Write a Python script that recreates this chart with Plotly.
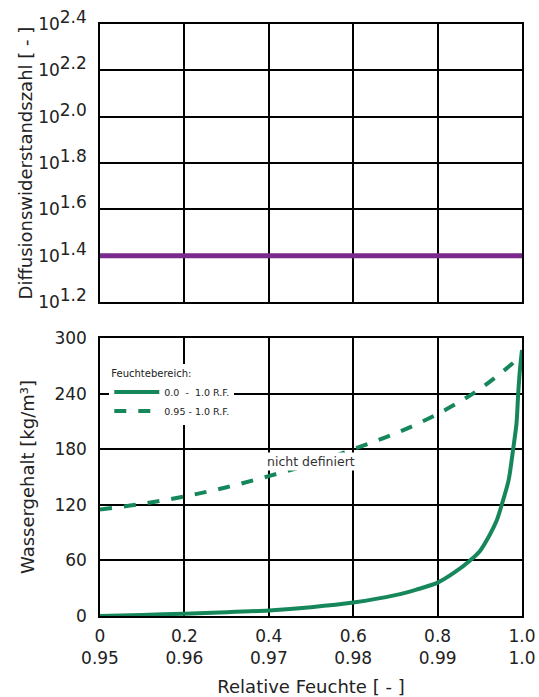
import plotly.graph_objects as go

# ---- data ----
rf_full = [0.0, 0.1, 0.2, 0.3, 0.4, 0.5, 0.6, 0.7, 0.75, 0.8, 0.84, 0.877, 0.9, 0.924, 0.94,
           0.952, 0.968, 0.979, 0.987, 0.991, 0.995, 1.0]
w_full = [0, 1.2, 2.5, 4, 6, 9.5, 14.5, 22.5, 28.5, 36, 47, 60, 70, 88, 103,
          120, 146, 180, 208, 240, 265, 287]

rf_high = [0.0, 0.1, 0.2, 0.3, 0.4, 0.5, 0.6, 0.7, 0.8, 0.9, 1.0]
w_high = [115, 121, 129, 139, 151, 164, 180, 197, 218, 245, 281]

mu_x = [0.0, 1.0]
mu_y = [10 ** 1.4, 10 ** 1.4]

x_tickvals = [0, 0.2, 0.4, 0.6, 0.8, 1.0]
x_ticktext = ["0<br>0.95", "0.2<br>0.96", "0.4<br>0.97", "0.6<br>0.98", "0.8<br>0.99", "1.0<br>1.0"]
mu_tick_exps = [1.2, 1.4, 1.6, 1.8, 2.0, 2.2, 2.4]
w_tickvals = [0, 60, 120, 180, 240, 300]

GREEN = "#16875A"
PURPLE = "#7A2A8C"
FONT = "DejaVu Sans, Liberation Sans, Arial, sans-serif"
TXT = "#222"

fig = go.Figure()

fig.add_trace(go.Scatter(x=mu_x, y=mu_y, mode="lines", line=dict(color=PURPLE, width=5),
                         xaxis="x2", yaxis="y2", showlegend=False))
fig.add_trace(go.Scatter(x=rf_full, y=w_full, mode="lines",
                         line=dict(color=GREEN, width=4, shape="spline", smoothing=0.8),
                         name="0.0  -  1.0 R.F.", xaxis="x", yaxis="y"))
fig.add_trace(go.Scatter(x=rf_high, y=w_high, mode="lines",
                         line=dict(color=GREEN, width=4, dash="dash", shape="spline"),
                         name="0.95 - 1.0 R.F.", xaxis="x", yaxis="y"))

axis_common = dict(showline=True, linecolor="black", linewidth=1.5, mirror=True,
                   showgrid=True, gridcolor="black", gridwidth=1.5, zeroline=False,
                   automargin=False, tickfont=dict(size=17, color=TXT))

fig.update_layout(
    width=539, height=697,
    margin=dict(l=100, r=17, t=24, b=81),
    paper_bgcolor="white", plot_bgcolor="white",
    font=dict(family=FONT, color=TXT),
    xaxis=dict(domain=[0, 1], range=[0, 1], tickvals=x_tickvals, ticktext=x_ticktext,
               title=dict(text="Relative Feuchte [ - ]", font=dict(size=18)),
               ticklabelstandoff=4, anchor="y", **axis_common),
    yaxis=dict(domain=[0, 0.4696], range=[0, 300], tickvals=w_tickvals,
               title=dict(text="Wassergehalt [kg/m³]", font=dict(size=18), standoff=15),
               ticklabelstandoff=8, anchor="x", **axis_common),
    xaxis2=dict(domain=[0, 1], range=[0, 1], tickvals=x_tickvals, showticklabels=False,
                anchor="y2", **axis_common),
    yaxis2=dict(domain=[0.530, 1], type="log", range=[1.2, 2.4000001],
                tickvals=[10 ** e for e in mu_tick_exps],
                ticktext=["10<sup><span style='font-size:17px'>%.1f</span></sup>" % e
                          for e in mu_tick_exps],
                title=dict(text="Diffusionswiderstandszahl [ - ]", font=dict(size=18), standoff=1),
                ticklabelstandoff=8, anchor="x2", **axis_common),
    legend=dict(x=0.022, y=0.425, xanchor="left", yanchor="top", bgcolor="white",
                title=dict(text="Feuchtebereich:", font=dict(size=10)),
                font=dict(size=9.5), itemwidth=45, tracegroupgap=0),
    annotations=[dict(x=0.5, y=167, xref="x", yref="y", text="nicht definiert", showarrow=False,
                      font=dict(size=12.5, color="#333"), bgcolor="white")],
)

fig.write_html("out.html", config={"displayModeBar": False},
               post_script="document.body.style.margin='0px';")
